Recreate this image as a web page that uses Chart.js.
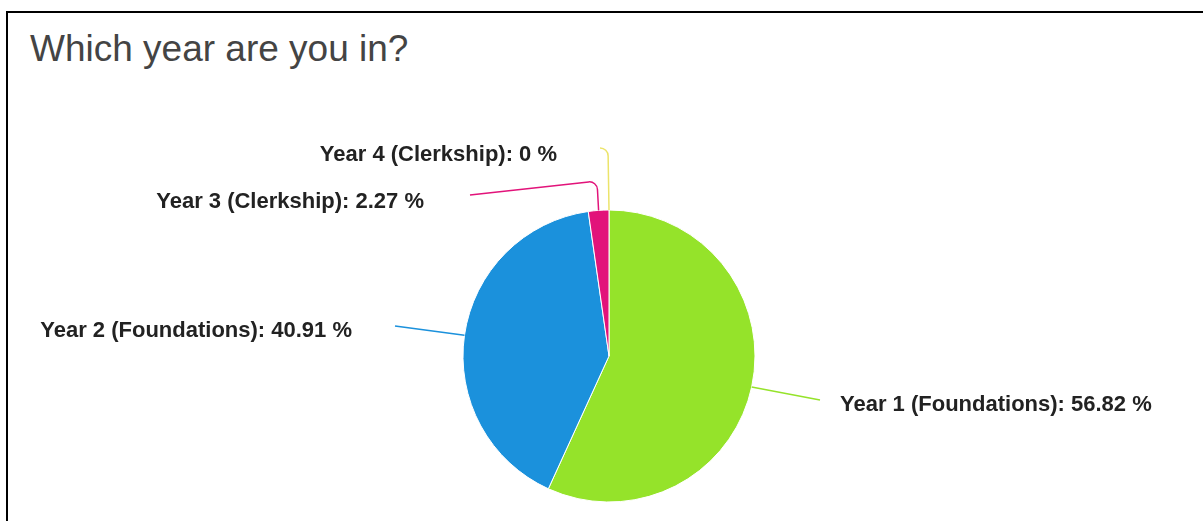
<!DOCTYPE html>
<html>
<head>
<meta charset="utf-8">
<script src="https://cdn.jsdelivr.net/npm/chart.js@4.4.1/dist/chart.umd.min.js"></script>
<style>
  html, body { margin: 0; padding: 0; background: #fff; }
  body { width: 1203px; height: 521px; position: relative; overflow: hidden; }
  #frame {
    position: absolute; left: 6px; top: 11px; right: 0; bottom: 0;
    border-top: 2px solid #000; border-left: 2px solid #000;
  }
  #title {
    position: absolute; left: 30px; top: 28px;
    font-family: "Liberation Sans", Arial, sans-serif; font-size: 37px;
    color: #444; white-space: nowrap;
  }
  #yearChart { position: absolute; left: 0; top: 0; }
</style>
</head>
<body>
<div id="frame"></div>
<div id="title">Which year are you in?</div>
<canvas id="yearChart" width="1203" height="521"></canvas>
<script>
(function() {

    var years = ["Year 1 (Foundations)", "Year 2 (Foundations)", "Year 3 (Clerkship)", "Year 4 (Clerkship)"];
    var percents = [56.82, 40.91, 2.27, 0];
    var sliceColors = ["#95e32a", "#1b91dc", "#e2137a", "#ece46a"];

    // label placement around the pie, offsets from its centre
    var labelSpots = [
        { end: [211, 44], text: [231, 55], align: "left" },
        { end: [-214, -30], text: [-257, -19], align: "right" },
        { elbow: [-12, -175], end: [-139, -161], text: [-185, -148], align: "right" },
        { elbow: [-1, -208], end: [-9, -208], text: [-52, -195], align: "right" }
    ];

    var calloutLabels = {
        id: "calloutLabels",
        afterDatasetsDraw: function(chart) {
            var ctx = chart.ctx;
            var arcs = chart.getDatasetMeta(0).data;
            ctx.save();
            arcs.forEach(function(arc, i) {
                var spot = labelSpots[i];
                var mid = (arc.startAngle + arc.endAngle) / 2;
                var ax = arc.x + Math.cos(mid) * arc.outerRadius;
                var ay = arc.y + Math.sin(mid) * arc.outerRadius;
                var ex = arc.x + spot.end[0], ey = arc.y + spot.end[1];

                ctx.beginPath();
                ctx.strokeStyle = sliceColors[i];
                ctx.lineWidth = 1.5;
                ctx.moveTo(ax, ay);
                if (spot.elbow) {
                    ctx.arcTo(arc.x + spot.elbow[0], arc.y + spot.elbow[1], ex, ey, 8);
                }
                ctx.lineTo(ex, ey);
                ctx.stroke();

                ctx.fillStyle = "#222";
                ctx.font = "bold 22px 'Liberation Sans', Arial, sans-serif";
                ctx.textAlign = spot.align;
                ctx.textBaseline = "alphabetic";
                ctx.fillText(years[i] + ": " + percents[i] + " %", arc.x + spot.text[0], arc.y + spot.text[1]);
            });
            ctx.restore();
        }
    };

    new Chart(document.getElementById("yearChart"), {
        type: "pie",
        data: {
            labels: years,
            datasets: [{
                data: percents,
                backgroundColor: sliceColors,
                borderColor: "#fff",
                borderWidth: 1,
                radius: 146
            }]
        },
        options: {
            responsive: false,
            animation: false,
            layout: { padding: { left: 15, right: 0, top: 200, bottom: 9 } },
            plugins: {
                legend: { display: false },
                tooltip: { enabled: false }
            }
        },
        plugins: [calloutLabels]
    });

})();
</script>
</body>
</html>
